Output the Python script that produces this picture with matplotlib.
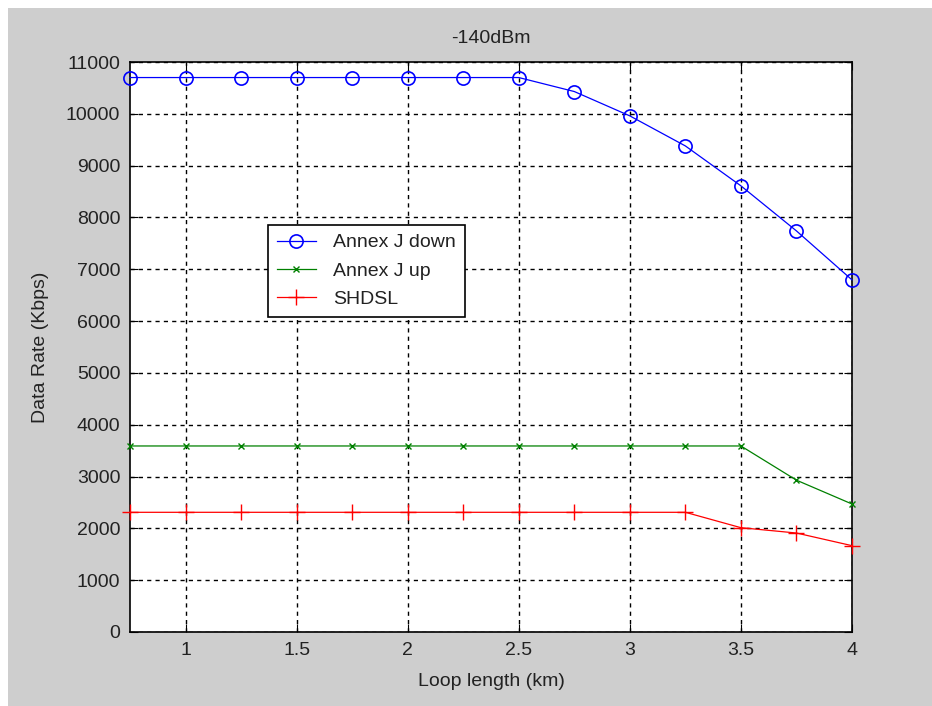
import matplotlib
matplotlib.use("Agg")
import matplotlib.pyplot as plt
from matplotlib.patches import Rectangle

loop_km = [0.75, 1.0, 1.25, 1.5, 1.75, 2.0, 2.25, 2.5, 2.75, 3.0, 3.25, 3.5, 3.75, 4.0]
annex_j_down = [10700, 10700, 10700, 10700, 10700, 10700, 10700, 10700, 10430, 9960, 9380, 8610, 7740, 6795]
annex_j_up = [3590, 3590, 3590, 3590, 3590, 3590, 3590, 3590, 3590, 3590, 3590, 3590, 2930, 2470]
shdsl = [2310, 2310, 2310, 2310, 2310, 2310, 2310, 2310, 2310, 2310, 2310, 2013, 1910, 1666]
xticks = [1, 1.5, 2, 2.5, 3, 3.5, 4]
yticks = list(range(0, 11001, 1000))

plt.rcParams['font.family'] = ['Liberation Sans', 'DejaVu Sans']
W, H = 932, 706
fig = plt.figure(figsize=(9.32, 7.06), dpi=100, facecolor='white')
fig.patches.append(Rectangle((8/W, 0), 1 - 8/W, (H - 8)/H, transform=fig.transFigure,
                             facecolor='#cecece', edgecolor='none', zorder=-10))
ax = fig.add_axes([130/W, 1 - 632/H, (852 - 130)/W, (632 - 62)/H])
ax.set_facecolor('white')

ax.plot(loop_km, annex_j_down, color='#0000ff', marker='o', markersize=9.5, markerfacecolor='none',
        markeredgewidth=1.2, linewidth=0.9, label='Annex J down', clip_on=False, zorder=5)
ax.plot(loop_km, annex_j_up, color='#008000', marker='x', markersize=5, linewidth=0.9,
        label='Annex J up', clip_on=False, zorder=5)
ax.plot(loop_km, shdsl, color='#ff0000', marker='+', markersize=11, markeredgewidth=1.0,
        linewidth=0.9, label='SHDSL', clip_on=False, zorder=5)

ax.set_xlim(0.75, 4)
ax.set_ylim(0, 11000)
ax.set_xticks(xticks)
ax.set_xticklabels(['1', '1.5', '2', '2.5', '3', '3.5', '4'])
ax.set_yticks(yticks)
ax.tick_params(direction='in', length=6, labelsize=14, top=True, right=True, colors='black',
               labelcolor='#222222')
ax.tick_params(axis='y', pad=7)
ax.tick_params(axis='x', pad=7)
ax.grid(True, color='black', linestyle=(0, (3, 3)), linewidth=1.0)
for s in ax.spines.values():
    s.set_linewidth(1.2)

ax.set_title('-140dBm', fontsize=14, pad=14, color='#222222')
ax.set_xlabel('Loop length (km)', fontsize=14, labelpad=10, color='#222222')
ax.set_ylabel('Data Rate (Kbps)', fontsize=14, labelpad=12, color='#222222')

leg = ax.legend(loc='upper left', bbox_to_anchor=((268 - 130)/722, 1 - (225 - 62)/570),
                fontsize=14, frameon=True, fancybox=False, edgecolor='black',
                borderpad=0.45, labelspacing=0.55, handlelength=2.0, handletextpad=0.9,
                borderaxespad=0)
leg.get_frame().set_linewidth(1.2)
leg.get_frame().set_alpha(1)
for t in leg.get_texts():
    t.set_color('#222222')

fig.savefig('out.png', dpi=100, facecolor=fig.get_facecolor())
